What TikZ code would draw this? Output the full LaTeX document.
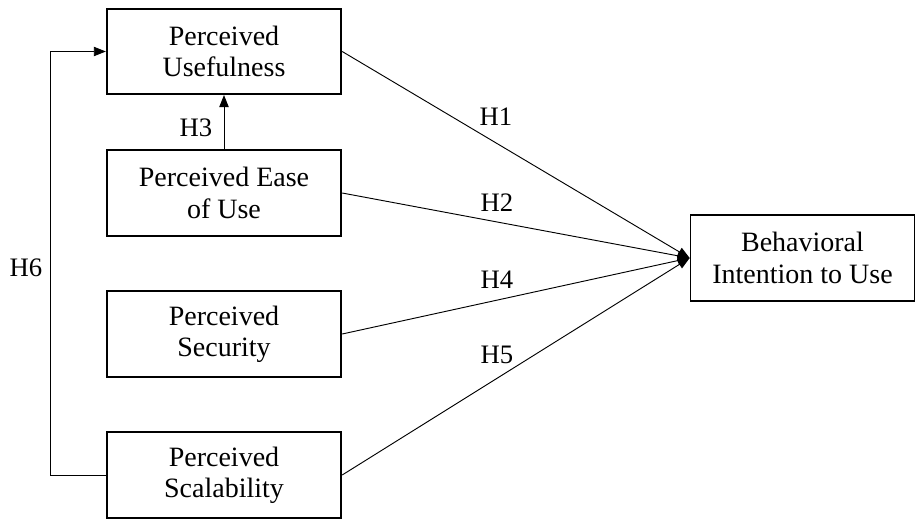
\documentclass[tikz,border=0pt]{standalone}
\usepackage{fontspec}
\setmainfont{Liberation Serif}
\usetikzlibrary{arrows.meta}

\begin{document}
\begin{tikzpicture}[x=0.75pt,y=0.75pt,yscale=-1,xscale=1,
  box/.style={draw,line width=1.3pt,minimum width=176pt,minimum height=64pt,align=center,inner sep=0pt,font=\fontsize{21}{23.5}\selectfont},
  hyp/.style={font=\fontsize{20}{22}\selectfont},
  link/.style={line width=0.7pt,-{Triangle[length=9pt,width=7pt]}}]
\useasboundingbox (0,0) rectangle (917,518);

%Boxes
\node [box] (pu) at (224,51.5) {Perceived\\Usefulness};
\node [box] (peou) at (224,193) {Perceived Ease\\of Use};
\node [box] (ps) at (224,334) {Perceived\\Security};
\node [box] (psc) at (224,475) {Perceived\\Scalability};
\node [box,minimum width=168pt] (bi) at (802.5,258) {Behavioral\\Intention to Use};

%Connectors
\coordinate (bend) at (50,475);
\draw [link] (peou) -- (pu);
\draw [link] (psc.west) -- (bend) |- (pu.west);
\draw [link] (pu.east) -- (bi.west);
\draw [link] (peou.east) -- (bi.west);
\draw [link] (ps.east) -- (bi.west);
\draw [link] (psc.east) -- (bi.west);

% Text Node
\node [hyp] (h1) at (496,117) {H1};
% Text Node
\node [hyp] (h2) at (497,203) {H2};
% Text Node
\node [hyp] (h3) at (196,128) {H3};
% Text Node
\node [hyp] (h4) at (497,280) {H4};
% Text Node
\node [hyp] (h5) at (497,355) {H5};
% Text Node
\node [hyp] (h6) at (26,268) {H6};

\end{tikzpicture}
\end{document}
